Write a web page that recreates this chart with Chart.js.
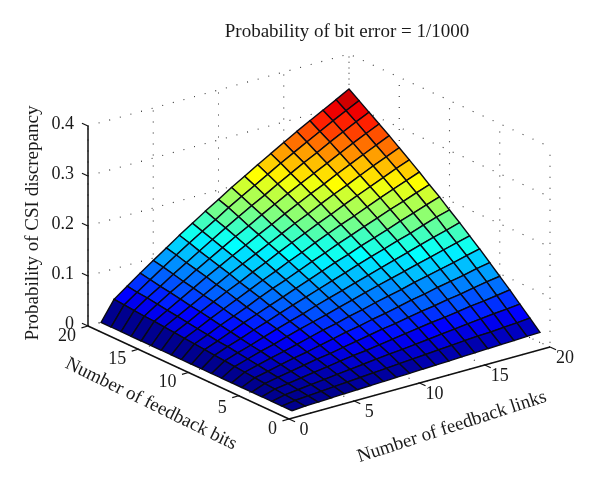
<!DOCTYPE html>
<html>
<head>
<meta charset="utf-8">
<title>Probability of bit error = 1/1000</title>
<script src="https://cdn.jsdelivr.net/npm/chart.js@4"></script>
<style>
  html, body { margin: 0; padding: 0; background: #fff; }
  canvas { display: block; }
</style>
</head>
<body>
<canvas id="myChart" width="600" height="481"></canvas>
<script>
var links = [1, 2, 3, 4, 5, 6, 7, 8, 9, 10, 11, 12, 13, 14, 15, 16, 17, 18, 19, 20];
var bits = [1, 2, 3, 4, 5, 6, 7, 8, 9, 10, 11, 12, 13, 14, 15, 16, 17, 18, 19, 20];

// one row per number of links, one column per number of bits
var discrepancy = [
  [0, 0, 0, 0, 0, 0, 0, 0, 0, 0, 0, 0, 0, 0, 0, 0, 0, 0, 0, 0],
  [.002, .004, .006, .008, .010, .012, .014, .016, .018, .020, .022, .024, .026, .028, .030, .032, .033, .035, .037, .039],
  [.003, .006, .009, .012, .015, .018, .021, .024, .027, .030, .032, .035, .038, .041, .044, .047, .050, .053, .055, .058],
  [.004, .008, .012, .016, .020, .024, .028, .032, .035, .039, .043, .047, .051, .055, .058, .062, .066, .069, .073, .077],
  [.005, .010, .015, .020, .025, .030, .034, .039, .044, .049, .054, .058, .063, .068, .072, .077, .081, .086, .091, .095],
  [.006, .012, .018, .024, .030, .035, .041, .047, .053, .058, .064, .069, .075, .081, .086, .092, .097, .102, .108, .113],
  [.007, .014, .021, .028, .034, .041, .048, .055, .061, .068, .074, .081, .087, .093, .100, .106, .112, .118, .125, .131],
  [.008, .016, .024, .032, .039, .047, .055, .062, .069, .077, .084, .092, .099, .106, .113, .120, .127, .134, .141, .148],
  [.009, .018, .027, .035, .044, .053, .061, .069, .078, .086, .094, .102, .110, .118, .126, .134, .142, .150, .157, .165],
  [.010, .020, .030, .039, .049, .058, .068, .077, .086, .095, .104, .113, .122, .131, .139, .148, .156, .165, .174, .181],
  [.011, .022, .032, .043, .054, .064, .074, .084, .094, .104, .114, .124, .133, .143, .152, .161, .171, .180, .189, .198],
  [.012, .024, .035, .047, .058, .069, .081, .092, .102, .113, .124, .134, .145, .155, .165, .175, .185, .194, .204, .213],
  [.013, .026, .038, .051, .063, .075, .087, .099, .110, .122, .133, .145, .156, .167, .177, .188, .199, .209, .219, .229],
  [.014, .028, .041, .055, .068, .081, .093, .106, .118, .131, .143, .155, .167, .178, .190, .201, .212, .223, .234, .244],
  [.015, .030, .044, .058, .072, .086, .100, .113, .126, .139, .152, .165, .177, .190, .202, .213, .225, .237, .248, .259],
  [.016, .032, .047, .062, .077, .092, .106, .120, .134, .148, .161, .175, .188, .201, .213, .226, .238, .250, .262, .274],
  [.017, .033, .050, .066, .081, .097, .112, .127, .142, .156, .171, .185, .199, .212, .225, .238, .251, .264, .276, .288],
  [.018, .035, .053, .069, .086, .102, .118, .134, .150, .165, .180, .194, .209, .223, .237, .250, .264, .277, .290, .302],
  [.019, .037, .055, .073, .091, .108, .125, .141, .157, .174, .189, .204, .219, .234, .248, .262, .276, .290, .303, .316],
  [.020, .039, .058, .077, .095, .113, .131, .148, .165, .181, .198, .213, .229, .244, .259, .274, .288, .302, .316, .330]
];

var linkTicks = [0, 5, 10, 15, 20];
var bitTicks = [0, 5, 10, 15, 20];
var probTicks = [0, 0.1, 0.2, 0.3, 0.4];

// view of the 3D box, in units of the hidden x and y scales
var view = { x0: 289, y0: 419, lx: 13.05, ly: -3.6, bx: -10.05, by: -4.65, pz: 500 };

function project(l, b, p) {
  return {
    x: view.x0 + l * view.lx + b * view.bx,
    y: view.y0 + l * view.ly + b * view.by - p * view.pz
  };
}

// matlab jet, 64 steps
function jet(t) {
  var i = Math.min(63, Math.floor(t * 64));
  var v = (i + 1) / 64;
  function c(a) { return Math.round(255 * Math.max(0, Math.min(1, a))); }
  return 'rgb(' + c(Math.min(4 * v - 1.5, -4 * v + 4.5)) + ',' +
    c(Math.min(4 * v - 0.5, -4 * v + 3.5)) + ',' +
    c(Math.min(4 * v + 0.5, -4 * v + 2.5)) + ')';
}

function lineSet(points, color, width, dash) {
  return {
    data: points,
    showLine: true,
    fill: false,
    borderColor: color,
    borderWidth: width,
    borderDash: dash || [],
    pointRadius: 0,
    clip: false
  };
}

var datasets = [];
var zMax = 0.33;

// first dataset is painted last, so the nearest cells go in first
for (var i = 0; i < links.length - 1; i++) {
  for (var j = 0; j < bits.length - 1; j++) {
    var corner = discrepancy[i][j];
    datasets.push({
      data: [
        project(links[i], bits[j], discrepancy[i][j]),
        project(links[i + 1], bits[j], discrepancy[i + 1][j]),
        project(links[i + 1], bits[j + 1], discrepancy[i + 1][j + 1]),
        project(links[i], bits[j + 1], discrepancy[i][j + 1]),
        project(links[i], bits[j], discrepancy[i][j])
      ],
      showLine: true,
      fill: 'shape',
      backgroundColor: jet(corner / zMax),
      borderColor: '#0a0a14',
      borderWidth: 1.4,
      pointRadius: 0,
      clip: false
    });
  }
}

// solid axes with their ticks
var axisColor = '#111';
datasets.push(lineSet([project(0, 0, 0), project(20, 0, 0)], axisColor, 1.5));
datasets.push(lineSet([project(0, 0, 0), project(0, 20, 0)], axisColor, 1.5));
datasets.push(lineSet([project(0, 20, 0), project(0, 20, 0.4)], axisColor, 1.5));
linkTicks.forEach(function (l) {
  datasets.push(lineSet([project(l, 0, 0), project(l, -0.6, 0)], axisColor, 1.2));
});
bitTicks.forEach(function (b) {
  datasets.push(lineSet([project(0, b, 0), project(-0.5, b, 0)], axisColor, 1.2));
});
probTicks.forEach(function (p) {
  datasets.push(lineSet([project(0, 20, p), project(0, 20.6, p)], axisColor, 1.2));
});

// dotted grid on the floor and the two back walls
var dots = [1, 10];
var gridColor = '#333';
linkTicks.forEach(function (l) {
  datasets.push(lineSet([project(l, 0, 0), project(l, 20, 0), project(l, 20, 0.4)], gridColor, 1.1, dots));
});
bitTicks.forEach(function (b) {
  datasets.push(lineSet([project(0, b, 0), project(20, b, 0), project(20, b, 0.4)], gridColor, 1.1, dots));
});
probTicks.forEach(function (p) {
  datasets.push(lineSet([project(0, 20, p), project(20, 20, p), project(20, 0, p)], gridColor, 1.1, dots));
});

var axisText = {
  id: 'axisText',
  afterDraw: function (chart) {
    var ctx = chart.ctx;
    var sx = chart.scales.x, sy = chart.scales.y;
    function put(text, pos, dx, dy, align) {
      ctx.textAlign = align;
      ctx.fillText(text, sx.getPixelForValue(pos.x) + dx, sy.getPixelForValue(pos.y) + dy);
    }
    function turned(text, x, y, angle) {
      ctx.save();
      ctx.translate(x, y);
      ctx.rotate(angle * Math.PI / 180);
      ctx.textAlign = 'center';
      ctx.fillText(text, 0, 0);
      ctx.restore();
    }
    ctx.save();
    ctx.fillStyle = '#1a1a1a';
    ctx.textBaseline = 'middle';
    ctx.font = '18px "Liberation Serif"';
    linkTicks.forEach(function (l) { put(String(l), project(l, 0, 0), 15, 11, 'center'); });
    bitTicks.forEach(function (b) { put(String(b), project(0, b, 0), -12, b === 5 ? 13 : 10, 'right'); });
    probTicks.forEach(function (p) { put(String(p), project(0, 20, p), -14, -2, 'right'); });
    ctx.font = '19px "Liberation Serif"';
    turned('Probability of bit error = 1/1000', 347, 32, 0);
    turned('Number of feedback bits', 151, 404, 26);
    turned('Number of feedback links', 452, 427, -18);
    turned('Probability of CSI discrepancy', 33, 223, -90);
    ctx.restore();
  }
};

var ctx = document.getElementById('myChart').getContext('2d');
new Chart(ctx, {
  type: 'scatter',
  data: { datasets: datasets },
  plugins: [axisText],
  options: {
    responsive: false,
    animation: false,
    layout: { padding: 0 },
    scales: {
      x: { type: 'linear', min: 0, max: 600, display: false },
      y: { type: 'linear', min: 0, max: 481, reverse: true, display: false }
    },
    plugins: {
      legend: { display: false },
      tooltip: { enabled: false }
    }
  }
});
</script>
</body>
</html>
